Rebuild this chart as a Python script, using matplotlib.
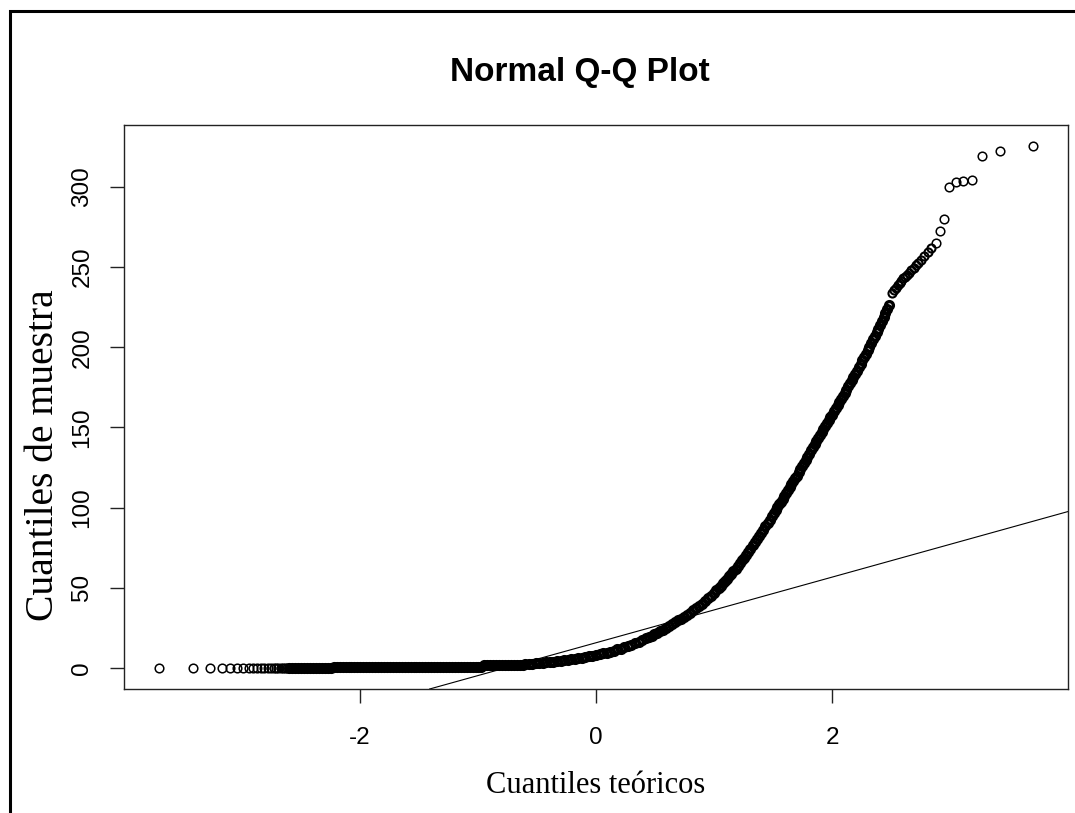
import matplotlib
matplotlib.use("Agg")
import matplotlib.pyplot as plt
from matplotlib.lines import Line2D
from statistics import NormalDist
import numpy as np

plt.rcParams["axes.unicode_minus"] = False

# --- data -------------------------------------------------------------------
# theoretical quantiles of the points whose sample value is 0
zero_x = [-3.70, -3.41, -3.27, -3.17, -3.10, -3.04, -2.985, -2.94, -2.90, -2.87,
          -2.84, -2.81, -2.78, -2.755, -2.73, -2.71, -2.69, -2.67, -2.65, -2.63,
          -2.615, -2.595, -2.57, -2.545, -2.52, -2.495, -2.47, -2.445, -2.42,
          -2.395, -2.37, -2.345, -2.32, -2.295, -2.27, -2.245]

# sample value 1
one_x = [-2.22, -2.195, -2.17, -2.145, -2.12, -2.095, -2.07, -2.045, -2.02, -1.995,
         -1.97, -1.945, -1.92, -1.895, -1.87, -1.845, -1.82, -1.795, -1.77, -1.745,
         -1.72, -1.695, -1.67, -1.645, -1.62, -1.595, -1.57, -1.545, -1.52, -1.495,
         -1.47, -1.445, -1.42, -1.395, -1.37, -1.345, -1.32, -1.295, -1.27, -1.245,
         -1.22, -1.195, -1.17, -1.145, -1.12, -1.095, -1.07, -1.045, -1.02, -0.995,
         -0.97]

# sample value 2
two_x = [-0.945, -0.92, -0.895, -0.87, -0.845, -0.82, -0.795, -0.77, -0.745,
         -0.72, -0.695, -0.67, -0.645, -0.62]

# rising part of the curve
rise_x = [-0.60, -0.57, -0.54, -0.51, -0.48, -0.45, -0.42, -0.39, -0.36, -0.33,
          -0.30, -0.27, -0.24, -0.21, -0.18, -0.15, -0.12, -0.09, -0.06, -0.03,
          0.00, 0.03, 0.06, 0.09, 0.12, 0.15, 0.18, 0.21, 0.24, 0.27,
          0.30, 0.33, 0.36, 0.39,
          0.42, 0.445, 0.47, 0.495, 0.52, 0.545, 0.57, 0.595, 0.62, 0.645,
          0.67, 0.695, 0.72, 0.745, 0.77, 0.795, 0.82, 0.845, 0.87, 0.895,
          0.92, 0.945, 0.97, 0.995,
          1.02, 1.038, 1.056, 1.074, 1.092, 1.11, 1.128, 1.146, 1.164, 1.182,
          1.20, 1.218, 1.236, 1.254, 1.272, 1.29, 1.308, 1.326, 1.344, 1.362,
          1.38, 1.398, 1.416, 1.434, 1.452, 1.47, 1.488,
          1.505, 1.52, 1.535, 1.55, 1.565, 1.58, 1.595, 1.61, 1.625, 1.64,
          1.655, 1.67, 1.685, 1.70, 1.715, 1.73, 1.745, 1.76, 1.775, 1.79,
          1.805, 1.82, 1.835, 1.85, 1.865, 1.88, 1.895, 1.91, 1.925, 1.94,
          1.955, 1.97, 1.985, 2.00, 2.015, 2.03, 2.045, 2.06, 2.075, 2.09,
          2.105, 2.12, 2.135, 2.15, 2.165, 2.18, 2.195, 2.21, 2.225, 2.24,
          2.255, 2.27, 2.285, 2.30, 2.315, 2.33, 2.345, 2.36, 2.375, 2.39,
          2.405, 2.42, 2.435, 2.45, 2.465, 2.48]
rise_y = [2.5, 2.7, 2.85, 3.05, 3.25, 3.45, 3.65, 3.9, 4.1, 4.35,
          4.6, 4.9, 5.2, 5.5, 5.85, 6.2, 6.55, 6.95, 7.35, 7.8,
          8.2, 8.7, 9.2, 9.7, 10.3, 10.9, 11.6, 12.2, 13.0, 13.8,
          14.6, 15.5, 16.5, 17.5,
          18.5, 19.3, 20.2, 21.0, 22.0, 23.0, 24.0, 25.1, 26.2, 27.4,
          28.6, 29.7, 30.9, 32.1, 33.3, 34.5, 35.9, 37.3, 38.7, 40.2,
          41.8, 43.4, 45.1, 46.7,
          48.5, 50.0, 51.4, 52.9, 54.4, 55.8, 57.3, 58.8, 60.4, 61.9,
          63.5, 65.3, 67.1, 68.9, 70.7, 72.5, 74.4, 76.4, 78.3, 80.3,
          82.3, 84.3, 86.3, 88.4, 90.5, 92.6, 94.7,
          96.6, 98.4, 100.2, 102.0, 103.8, 105.6, 107.4, 109.2, 111.0, 112.8,
          114.6, 116.4, 118.2, 120.0, 122.0, 123.9, 125.9, 127.8, 129.8, 131.7,
          133.7, 135.6, 137.6, 139.5, 141.5, 143.4, 145.4, 147.2, 149.0, 150.8,
          152.6, 154.4, 156.2, 158.0, 160.0, 161.9, 163.9, 165.8, 167.8, 169.7,
          171.7, 173.6, 175.6, 177.5, 179.5, 181.4, 183.4, 185.4, 187.5, 189.6,
          191.7, 193.8, 195.9, 198.0, 200.3, 202.5, 204.8, 207.0, 209.3, 211.5,
          213.8, 216.3, 218.9, 221.4, 224.0, 226.5]

# upper tail, single points
top_x = [2.51, 2.525, 2.54, 2.555, 2.57, 2.585, 2.60, 2.615, 2.63, 2.65,
         2.67, 2.69, 2.71, 2.73, 2.755, 2.78, 2.81, 2.84, 2.875, 2.91,
         2.95, 2.99, 3.05, 3.11, 3.18, 3.27, 3.42, 3.70]
top_y = [234.0, 235.5, 237.0, 238.5, 240.0, 241.5, 243.0, 244.0, 245.0, 246.5,
         248.0, 249.5, 251.0, 252.5, 254.5, 256.5, 259.0, 261.5, 265.0, 272.6,
         280.0, 300.0, 302.6, 303.3, 304.2, 319.0, 322.0, 325.4]

# sample quartiles used by the reference line
q1, q3 = 2.0, 29.6

title = "Normal Q-Q Plot"
xlabel = "Cuantiles teóricos"
ylabel = "Cuantiles de muestra"
xticks = [-2, 0, 2]
yticks = [0, 50, 100, 150, 200, 250, 300]

# --- build the point sets -----------------------------------------------------
# thousands of overlapping circles in the original: draw the crowded run
# with a heavier outline, the isolated tail points with a thin one
n_left = 21     # isolated points at the lower end
n_right = 10    # isolated points at the upper end

tail_x = np.concatenate([zero_x[:n_left], top_x[-n_right:]])
tail_y = np.concatenate([np.zeros(n_left), top_y[-n_right:]])

mid_x = np.concatenate([zero_x[n_left:], one_x, two_x, rise_x])
mid_y = np.concatenate([np.zeros(len(zero_x) - n_left), np.ones(len(one_x)),
                        np.full(len(two_x), 2.0), rise_y])
up_x = np.array(top_x[:-n_right])
up_y = np.array(top_y[:-n_right])

all_x = np.concatenate([tail_x, mid_x, up_x])
all_y = np.concatenate([tail_y, mid_y, up_y])

W, H = 1075, 813
fig = plt.figure(figsize=(W / 100, H / 100), dpi=100)
ax = fig.add_axes([124 / W, 1 - 689 / H, (1068 - 124) / W, (689 - 125) / H])

ax.plot(tail_x, tail_y, "o", mfc="none", mec="black", ms=6.2, mew=1.1, ls="none")
ax.plot(up_x, up_y, "o", mfc="none", mec="black", ms=5.8, mew=1.5, ls="none")
ax.plot(mid_x, mid_y, "o", mfc="none", mec="black", ms=5.6, mew=2.4, ls="none")

nd = NormalDist()
z1, z3 = nd.inv_cdf(0.25), nd.inv_cdf(0.75)
ax.axline((z1, q1), (z3, q3), color="black", lw=0.8)

# R style 4% padding
xs = all_x.max() - all_x.min()
ys = all_y.max() - all_y.min()
ax.set_xlim(all_x.min() - 0.04 * xs, all_x.max() + 0.04 * xs)
ax.set_ylim(all_y.min() - 0.04 * ys, all_y.max() + 0.04 * ys)

ax.set_xticks(xticks)
ax.set_yticks(yticks)
ax.tick_params(axis="both", length=10, width=1.0, color="#222222",
               labelsize=17.5)
ax.tick_params(axis="x", pad=17)
ax.tick_params(axis="y", pad=12)
for lab in ax.get_xticklabels() + ax.get_yticklabels():
    lab.set_fontfamily("Liberation Sans")
plt.setp(ax.get_yticklabels(), rotation=90, va="center")

for sp in ax.spines.values():
    sp.set_linewidth(1.0)
    sp.set_color("#222222")

fig.text(580 / W, 1 - 81 / H, title, ha="center", va="baseline",
         fontsize=24, fontweight="bold", family="Liberation Sans")
fig.text(596 / W, 1 - 793 / H, xlabel, ha="center", va="baseline",
         fontsize=22, family="Liberation Serif")
fig.text(44 / W, 1 - 455 / H, ylabel, ha="center", va="center", rotation=90,
         fontsize=28.5, family="Liberation Serif")

# screenshot frame on the left and top
fig.add_artist(Line2D([9.5 / W, 9.5 / W, 1.0], [0.0, 1 - 10.8 / H, 1 - 10.8 / H],
                      transform=fig.transFigure, color="black", lw=2.2,
                      solid_joinstyle="miter"))

fig.savefig("out.png", dpi=100)
